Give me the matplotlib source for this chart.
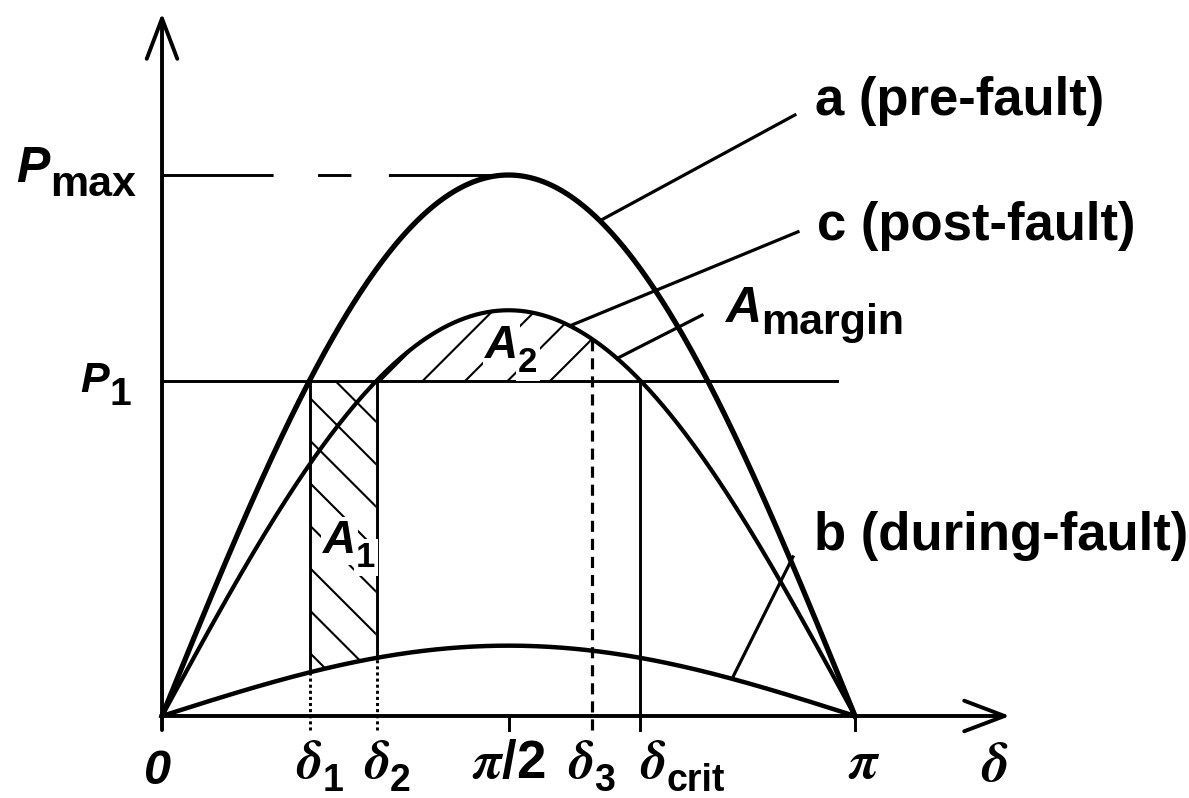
import numpy as np
import matplotlib
matplotlib.use('Agg')
import matplotlib.pyplot as plt

plt.rcParams['font.family'] = ['Liberation Sans', 'DejaVu Sans']
plt.rcParams['font.weight'] = 'bold'
plt.rcParams['mathtext.fontset'] = 'stix'
plt.rcParams['lines.scale_dashes'] = False

# power-angle curve amplitudes, per unit of the pre-fault maximum
P_PRE = 1.0      # a (pre-fault)
P_POST = 0.75    # c (post-fault)
P_DURING = 0.13  # b (during-fault)
P_1 = 0.62       # mechanical input power
DELTA_3 = 1.95   # rad, angle reached at the end of the swing

# angles where the input line meets the curves
delta_1 = np.arcsin(P_1 / P_PRE)
delta_2 = np.arcsin(P_1 / P_POST)
delta_crit = np.pi - delta_2

d = np.linspace(0, np.pi, 500)
curve_a = P_PRE * np.sin(d)
curve_c = P_POST * np.sin(d)
curve_b = P_DURING * np.sin(d)

fig = plt.figure(figsize=(11.89, 7.98), dpi=100)
ax = fig.add_axes([0, 0, 1, 1])
ax.set_xlim(-0.7344, 4.6555)
ax.set_ylim(-0.1516, 1.3235)
ax.axis('off')

K = 'black'
BELOW = -0.026  # how far the marker lines reach under the delta axis
THIN = 2.1


def hatch(x, lo, hi, slope, x0_px, step_px=42.5, lw=1.5):
    """Hand-drawn hatching of the region between lo and hi."""
    poly = ax.fill_between(x, lo, hi, facecolor='none', edgecolor='none')
    clip = poly.get_paths()[0]
    T = ax.transData
    y_ref = T.transform((0, P_1))[1]
    inv = T.inverted()
    for k in range(-15, 30):
        xc = x0_px + k * step_px
        p0 = inv.transform((xc - 500, y_ref - 500 * slope))
        p1 = inv.transform((xc + 500, y_ref + 500 * slope))
        ln, = ax.plot([p0[0], p1[0]], [p0[1], p1[1]], color=K, lw=lw, zorder=1)
        ln.set_clip_path(clip, ax.transData)


# A1: accelerating area under the input line, over the during-fault curve
m1 = (d >= delta_1) & (d <= delta_2)
hatch(d[m1], curve_b[m1], np.full(m1.sum(), P_1), -1.0, 335)
# A2: decelerating area up to delta_3
m2 = (d >= delta_2) & (d <= DELTA_3)
hatch(d[m2], np.full(m2.sum(), P_1), curve_c[m2], 1.0, 423)

# axes with arrow heads
arrow = dict(arrowstyle='->, head_length=2.9, head_width=1.1', lw=2.8, color=K,
             shrinkA=0, shrinkB=0, mutation_scale=10)
ax.annotate('', xy=(3.844, 0), xytext=(0, 0), arrowprops=arrow)
ax.annotate('', xy=(0, 1.2994), xytext=(0, BELOW), arrowprops=arrow)

# power-angle curves
ax.plot(d, curve_a, color=K, lw=3.8, zorder=3)
ax.plot(d, curve_c, color=K, lw=3.0, zorder=3)
ax.plot(d, curve_b, color=K, lw=3.2, zorder=3)

# P_max guide and P_1 input line
ax.plot([0, np.pi / 2], [P_PRE, P_PRE], color=K, lw=THIN,
        linestyle=(0, (80, 32, 24, 27, 200, 1)), zorder=2)
ax.plot([0, 3.06], [P_1, P_1], color=K, lw=THIN, zorder=2)

# angle markers
for da in (delta_1, delta_2):
    ax.plot([da, da], [P_DURING * np.sin(da), P_1], color=K, lw=THIN, zorder=2)
    ax.plot([da, da], [BELOW, P_DURING * np.sin(da)], color=K, lw=THIN,
            linestyle=(0, (2.2, 2.2)), zorder=2)
ax.plot([DELTA_3, DELTA_3], [BELOW, P_POST * np.sin(DELTA_3)], color=K, lw=2.3,
        linestyle=(0, (8, 5)), zorder=2)
ax.plot([delta_crit, delta_crit], [BELOW, P_1], color=K, lw=THIN, zorder=2)
for tk in (np.pi / 2, np.pi):
    ax.plot([tk, tk], [BELOW, 0], color=K, lw=THIN, zorder=2)

# leader lines to the labels
leaders = [((1.985, P_PRE * np.sin(1.985)), (2.869, 1.111)),
           ((1.849, P_POST * np.sin(1.849)), (2.883, 0.895)),
           ((2.063, P_POST * np.sin(2.063)), (2.448, 0.741)),
           ((2.584, P_DURING * np.sin(2.584)), (2.860, 0.294))]
for (x0, y0), (x1, y1) in leaders:
    ax.plot([x0, x1], [y0, y1], color=K, lw=2.3, zorder=2)

BIG = 38
ax.text(2.96, 1.111, 'a (pre-fault)', fontsize=BIG, va='baseline')
ax.text(2.97, 0.880, 'c (post-fault)', fontsize=BIG, va='baseline')
ax.text(2.955, 0.307, 'b (during-fault)', fontsize=BIG, va='baseline')


def sub_label(x, y, main, sub, size, sub_size, dy, ha='left', box=None, **kw):
    t = ax.text(x, y, main, fontsize=size, ha=ha, va='baseline', bbox=box, **kw)
    ax.annotate(sub, xy=(1, 0), xycoords=t, xytext=(0, dy),
                textcoords='offset points', fontsize=sub_size, va='baseline',
                bbox=box)
    return t


white = dict(facecolor='white', edgecolor='none', pad=1.5)
sub_label(-0.66, 0.987, 'P', 'max', 36, 31, -3, style='italic')
sub_label(-0.37, 0.599, 'P', '1', 31, 28, -3, style='italic')
sub_label(0.73, 0.301, 'A', '1', 33, 25, -3, box=white, style='italic')
sub_label(1.464, 0.662, 'A', '2', 33, 25, -3, box=white, style='italic')
sub_label(2.552, 0.728, 'A', 'margin', 36, 31, -1, style='italic')

# delta axis labels
YL = -0.115
DEL = r'$\boldsymbol{\delta}$'
ax.text(-0.02, -0.125, '0', fontsize=35, ha='center', va='baseline', style='italic')
sub_label(delta_1, YL, DEL, '1', 38, 27, -1, ha='center')
sub_label(delta_2, YL, DEL, '2', 38, 27, -1, ha='center')
ax.text(np.pi / 2, YL, r'$\boldsymbol{\pi}$/2', fontsize=38, ha='center', va='baseline')
sub_label(DELTA_3 - 0.05, YL, DEL, '3', 38, 27, -1, ha='center')
sub_label(delta_crit, YL, DEL, 'crit', 38, 27, -1, ha='left')
ax.text(np.pi + 0.04, YL, r'$\boldsymbol{\pi}$', fontsize=38, ha='center', va='baseline')
ax.text(3.776, -0.12, DEL, fontsize=40, ha='center', va='baseline')

fig.savefig('out.png', dpi=100, facecolor='white')
